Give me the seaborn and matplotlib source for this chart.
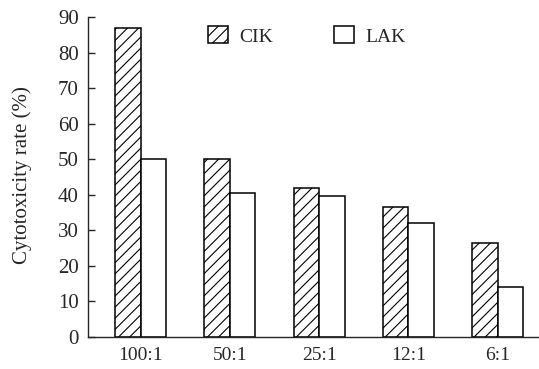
import pandas as pd
import matplotlib.pyplot as plt
import seaborn as sns

# === Dados ===
ratios = ["100:1", "50:1", "25:1", "12:1", "6:1"]
cik = [87, 50, 42, 36.5, 26.5]
lak = [50, 40.5, 39.5, 32, 14]

df = pd.DataFrame({
    "ratio": ratios * 2,
    "rate": cik + lak,
    "cell": ["CIK"] * len(ratios) + ["LAK"] * len(ratios),
})

sns.set_style("ticks")
plt.rcParams["font.family"] = ["Liberation Serif", "DejaVu Serif"]
plt.rcParams["hatch.linewidth"] = 0.8

fig = plt.figure(figsize=(5.39, 3.69), dpi=100)
ax = fig.add_axes([0.163, 0.087, 0.835, 0.867])

sns.barplot(
    data=df, x="ratio", y="rate", hue="cell",
    palette={"CIK": "white", "LAK": "white"},
    edgecolor="black", linewidth=1.1, width=0.57, gap=0,
    ax=ax, legend=False,
)

# hachura nas barras CIK
for bar in ax.containers[0]:
    bar.set_hatch("///")

ax.set_xlim(-0.59, 4.45)
ax.set_ylim(0, 90)
ax.set_yticks(range(0, 91, 10))
ax.set_xlabel("")
ax.set_ylabel("Cytotoxicity rate (%)", fontsize=15)
ax.yaxis.set_label_coords(-0.125, 0.505)
ax.tick_params(axis="y", direction="in", length=5, labelsize=15, width=1, pad=6.5)
ax.tick_params(axis="x", length=0, labelsize=14, pad=7)
for s in ["top", "right"]:
    ax.spines[s].set_visible(False)
ax.spines["left"].set_linewidth(1.0)
ax.spines["bottom"].set_linewidth(1.0)

handles = [ax.containers[0][0], ax.containers[1][0]]
ax.legend(handles, ["CIK", "LAK"], ncol=2, frameon=False, fontsize=14,
          loc="center left", bbox_to_anchor=(208 / 539, 1 - 36 / 369),
          bbox_transform=fig.transFigure, borderpad=0, borderaxespad=0,
          handlelength=1.03, handleheight=0.95, columnspacing=3.1,
          handletextpad=0.6)

fig.savefig("out.png", dpi=100)
